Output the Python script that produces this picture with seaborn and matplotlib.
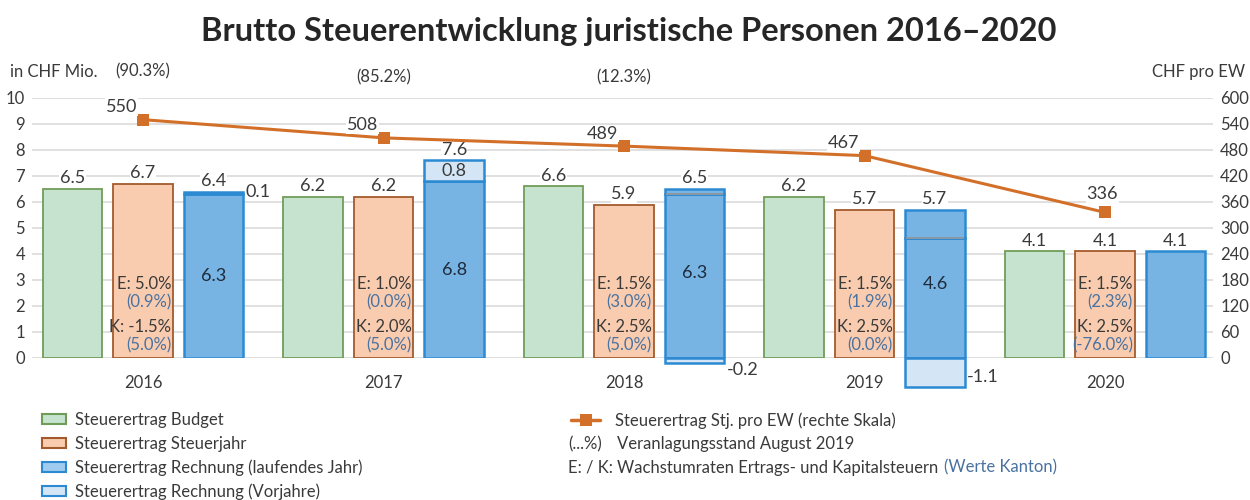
import matplotlib
matplotlib.use("Agg")
import matplotlib.pyplot as plt
from matplotlib.patches import Patch
from matplotlib.lines import Line2D
import seaborn as sns
import pandas as pd
import numpy as np

# values
jahre = ["2016", "2017", "2018", "2019", "2020"]
budget = [6.5, 6.2, 6.6, 6.2, 4.1]
steuerjahr = [6.7, 6.2, 5.9, 5.7, 4.1]
rechnung_lfd = [6.3, 6.8, 6.3, 4.6, 4.1]
rechnung_vorj = [0.1, 0.8, -0.2, -1.1, np.nan]
rechnung_total = [6.4, 7.6, 6.5, 5.7, 4.1]
pro_ew = [550, 508, 489, 467, 336]
veranlagung = ["(90.3%)", "(85.2%)", "(12.3%)", "", ""]
e_rate = ["E: 5.0%", "E: 1.0%", "E: 1.5%", "E: 1.5%", "E: 1.5%"]
e_kanton = ["(0.9%)", "(0.0%)", "(3.0%)", "(1.9%)", "(2.3%)"]
k_rate = ["K: -1.5%", "K: 2.0%", "K: 2.5%", "K: 2.5%", "K: 2.5%"]
k_kanton = ["(5.0%)", "(5.0%)", "(5.0%)", "(0.0%)", "(-76.0%)"]

sns.set_theme(style="white")
plt.rcParams["font.family"] = ["Lato", "DejaVu Sans"]

FS = 12
TXT = "#3a3a3a"
KAN = "#4a72a0"
c_bud, e_bud = "#c6e3cf", "#6f9d58"
c_stj, e_stj = "#f9ccb0", "#a35a2c"
c_lfd, e_lfd = "#77b4e3", "#2b8ad2"
c_vj = "#d4e6f6"
c_line = "#d2702a"

df = pd.DataFrame({
    "Jahr": jahre * 3,
    "Wert": budget + steuerjahr + rechnung_lfd,
    "Serie": ["Budget"] * 5 + ["Steuerjahr"] * 5 + ["Rechnung"] * 5,
})

fig = plt.figure(figsize=(12.5, 5), dpi=100)
ax = fig.add_axes([0.0256, 0.284, 0.945, 0.52])

sns.barplot(data=df, x="Jahr", y="Wert", hue="Serie", order=jahre,
            palette=[c_bud, c_stj, c_lfd], width=0.88, gap=0.154,
            saturation=1, legend=False, linewidth=1.3, ax=ax)
for cont, ec in zip(ax.containers, [e_bud, e_stj, e_lfd]):
    for p in cont:
        p.set_edgecolor(ec)
for p in ax.containers[2]:
    p.set_linewidth(1.8)

slot = 0.88 / 3
bw = slot * (1 - 0.154)
xs = np.arange(len(jahre))

for i in range(len(jahre)):
    xb = xs[i] + slot
    v = rechnung_vorj[i]
    if np.isnan(v):
        continue
    if v > 0:
        ax.bar(xb, v, bottom=rechnung_lfd[i], width=bw, color=c_vj,
               edgecolor=e_lfd, linewidth=1.8, clip_on=False)
    else:
        ax.bar(xb, rechnung_total[i] - rechnung_lfd[i], bottom=rechnung_lfd[i],
               width=bw, color=c_lfd, edgecolor=e_lfd, linewidth=1.8)
        ax.hlines(rechnung_lfd[i], xb - bw / 2 + 0.004, xb + bw / 2 - 0.004,
                  color="#9a9a9a", lw=1.2, zorder=3)
        ax.bar(xb, v, bottom=0, width=bw, color=c_vj, edgecolor=e_lfd,
               linewidth=1.8, clip_on=False)

lab = dict(fontsize=FS + 1, color=TXT, ha="center", va="bottom",
           textcoords="offset points",
           bbox=dict(facecolor="white", edgecolor="none", pad=0.5))
for i in range(len(jahre)):
    ax.annotate(f"{budget[i]:.1f}", (xs[i] - slot, budget[i]), xytext=(0, 2), **lab)
    ax.annotate(f"{steuerjahr[i]:.1f}", (xs[i], steuerjahr[i]), xytext=(0, 2), **lab)
    top = rechnung_total[i] if np.isnan(rechnung_vorj[i]) or rechnung_vorj[i] < 0 \
        else rechnung_lfd[i] + rechnung_vorj[i]
    ax.annotate(f"{rechnung_total[i]:.1f}", (xs[i] + slot, top), xytext=(0, 2), **lab)

    v = rechnung_vorj[i]
    if not np.isnan(v):
        inner_y = rechnung_lfd[i] / 2 if v > 0 else rechnung_total[i] / 2
        ax.text(xs[i] + slot, inner_y, f"{rechnung_lfd[i]:.1f}", fontsize=FS + 1,
                color="#1f2a3a", ha="center", va="center")
        if v >= 0.5:
            ax.text(xs[i] + slot, rechnung_lfd[i] + v / 2, f"{v:.1f}", fontsize=FS + 1,
                    color=TXT, ha="center", va="center")
        elif v > 0:
            ax.text(xs[i] + slot + bw / 2 + 0.01, rechnung_lfd[i] + v, f"{v:.1f}",
                    fontsize=FS + 1, color=TXT, ha="left", va="center")
        else:
            ax.text(xs[i] + slot + bw / 2 + 0.01, min(v / 2 - 0.2, -0.45), f"{v:.1f}",
                    fontsize=FS + 1, color=TXT, ha="left", va="center")

    xr = xs[i] + bw / 2 - 0.008
    ax.text(xr, 2.85, e_rate[i], fontsize=FS, color=TXT, ha="right", va="center")
    ax.text(xr, 2.15, e_kanton[i], fontsize=FS, color=KAN, ha="right", va="center")
    ax.text(xr, 1.2, k_rate[i], fontsize=FS, color=TXT, ha="right", va="center")
    ax.text(xr, 0.5, k_kanton[i], fontsize=FS, color=KAN, ha="right", va="center")

    if veranlagung[i]:
        ax.annotate(veranlagung[i], (xs[i], 1), xycoords=("data", "axes fraction"),
                    xytext=(0, 19 if i == 0 else 15), textcoords="offset points",
                    fontsize=FS, color=TXT, ha="center", va="center")

ax.set_xlim(-0.462, 4.45)
ax.set_ylim(0, 10)
ax.set_yticks(range(0, 11))
ax.set_xlabel("")
ax.set_ylabel("")
ax.grid(axis="y", color="#dadada", lw=1.2)
ax.set_axisbelow(True)
ax.tick_params(axis="x", length=0, pad=12, labelsize=FS, labelcolor=TXT)
ax.tick_params(axis="y", length=0, pad=5, labelsize=FS, labelcolor=TXT)
for s in ax.spines.values():
    s.set_visible(False)

ax2 = ax.twinx()
sns.lineplot(x=xs, y=pro_ew, ax=ax2, color=c_line, lw=2.2, marker="s",
             markersize=9, markeredgewidth=0)
for i, v in enumerate(pro_ew):
    if i < len(pro_ew) - 1:
        ax2.annotate(str(v), (xs[i], v), xytext=(-4, 9), textcoords="offset points",
                     fontsize=FS + 1, color=TXT, ha="right", va="center",
                     bbox=dict(facecolor="white", edgecolor="none", pad=0.5))
    else:
        ax2.annotate(str(v), (xs[i], v), xytext=(-2, 13), textcoords="offset points",
                     fontsize=FS + 1, color=TXT, ha="center", va="center",
                     bbox=dict(facecolor="white", edgecolor="none", pad=0.5))
ax2.set_ylim(0, 600)
ax2.set_yticks(range(0, 601, 60))
ax2.set_ylabel("")
ax2.grid(False)
ax2.tick_params(axis="y", length=0, pad=5, labelsize=FS, labelcolor=TXT)
for s in ax2.spines.values():
    s.set_visible(False)
ax.set_xlim(-0.462, 4.45)

fig.text(0.503, 0.938, "Brutto Steuerentwicklung juristische Personen 2016\u20132020",
         ha="center", va="center", fontsize=23.5, weight="bold", color="#262626")
fig.text(0.008, 0.856, "in CHF Mio.", fontsize=FS, color=TXT, ha="left", va="center")
fig.text(0.996, 0.856, "CHF pro EW", fontsize=FS, color=TXT, ha="right", va="center")

handles = [
    Patch(facecolor=c_bud, edgecolor=e_bud, linewidth=1.5),
    Patch(facecolor=c_stj, edgecolor=e_stj, linewidth=1.5),
    Patch(facecolor="#9fcbee", edgecolor=e_lfd, linewidth=1.5),
    Patch(facecolor=c_vj, edgecolor=e_lfd, linewidth=1.5),
]
labels = ["Steuerertrag Budget", "Steuerertrag Steuerjahr",
          "Steuerertrag Rechnung (laufendes Jahr)", "Steuerertrag Rechnung (Vorjahre)"]
leg = fig.legend(handles, labels, loc="upper left", bbox_to_anchor=(0.0336, 0.176),
                 frameon=False, fontsize=FS, handlelength=1.45, handleheight=0.55,
                 handletextpad=0.55, labelspacing=0.46, borderpad=0, borderaxespad=0)
for t in leg.get_texts():
    t.set_color(TXT)

leg2 = fig.legend([Line2D([], [], color=c_line, lw=2.5, marker="s", markersize=8,
                          markeredgewidth=0)],
                  ["Steuerertrag Stj. pro EW (rechte Skala)"], loc="upper left",
                  bbox_to_anchor=(0.457, 0.176), frameon=False, fontsize=FS,
                  handlelength=1.75, handletextpad=0.9, borderpad=0, borderaxespad=0)
for t in leg2.get_texts():
    t.set_color(TXT)

fig.text(0.4545, 0.112, "(...%)", fontsize=FS, color=TXT, ha="left", va="center")
fig.text(0.4936, 0.112, "Veranlagungsstand August 2019", fontsize=FS, color=TXT,
         ha="left", va="center")
fig.text(0.4545, 0.065, "E: / K:", fontsize=FS, color=TXT, ha="left", va="center")
t1 = fig.text(0.4936, 0.065, "Wachstumraten Ertrags- und Kapitalsteuern", fontsize=FS,
              color=TXT, ha="left", va="center")
ax.annotate("(Werte Kanton)", xy=(1, 0.5), xycoords=t1, xytext=(4, 0),
            textcoords="offset points", fontsize=FS, color=KAN, ha="left", va="center")

fig.savefig("out.png", dpi=100)
